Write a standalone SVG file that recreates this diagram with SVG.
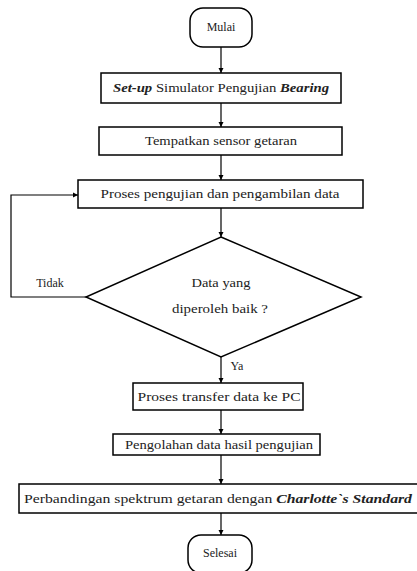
<svg xmlns="http://www.w3.org/2000/svg" width="417" height="571" viewBox="0 0 417 571">
<style>
.s{fill:#fff;stroke:#000;stroke-width:1.5}
.t{font-family:'Liberation Serif','DejaVu Serif','Times New Roman',serif;font-size:12px;fill:#222;text-anchor:middle}
.i{font-style:italic;font-weight:bold}
.c{fill:none;stroke:#000;stroke-width:1.2}
</style>
<defs>
<marker id="a" markerWidth="6" markerHeight="6" refX="5" refY="3" orient="auto" markerUnits="userSpaceOnUse">
<path d="M0,0.5 L5,3 L0,5.5 Z" fill="#000"/>
</marker>
</defs>
<g id="connectors">
<line class="c" x1="221" y1="47" x2="221" y2="73" marker-end="url(#a)"/>
<line class="c" x1="221" y1="103" x2="221" y2="127" marker-end="url(#a)"/>
<line class="c" x1="221" y1="155" x2="221" y2="180" marker-end="url(#a)"/>
<line class="c" x1="221" y1="208" x2="221" y2="237" marker-end="url(#a)"/>
<polyline class="c" points="86,297 11,297 11,195 78,195" marker-end="url(#a)"/>
<line class="c" x1="221" y1="357" x2="221" y2="383" marker-end="url(#a)"/>
<line class="c" x1="221" y1="410" x2="221" y2="434" marker-end="url(#a)"/>
<line class="c" x1="221" y1="455" x2="221" y2="484" marker-end="url(#a)"/>
<line class="c" x1="221" y1="513" x2="221" y2="535" marker-end="url(#a)"/>
<text class="t" x="50" y="287" font-family="Liberation Serif, serif">Tidak</text>
<text class="t" x="237" y="370" font-family="Liberation Serif, serif">Ya</text>
</g>
<g id="mulai">
<rect class="s" x="190" y="8" width="62" height="39" rx="13"/>
<text class="t" x="221" y="31" font-size="11">Mulai</text>
</g>
<g id="setup">
<rect class="s" x="101" y="73" width="240" height="30"/>
<text class="t" x="221" y="92" textLength="216" lengthAdjust="spacingAndGlyphs"><tspan class="i">Set-up</tspan> Simulator Pengujian <tspan class="i">Bearing</tspan></text>
</g>
<g id="tempatkan">
<rect class="s" x="99" y="127" width="243" height="28"/>
<text class="t" x="221" y="145" textLength="152" lengthAdjust="spacingAndGlyphs">Tempatkan sensor getaran</text>
</g>
<g id="proses">
<rect class="s" x="78" y="180" width="285" height="28"/>
<text class="t" x="220" y="198" textLength="239" lengthAdjust="spacingAndGlyphs">Proses  pengujian dan pengambilan data</text>
</g>
<g id="decision">
<polygon class="s" points="221,237 361,297 221,357 86,297"/>
<text class="t" x="221" y="287" textLength="59" lengthAdjust="spacingAndGlyphs">Data yang</text>
<text class="t" x="220" y="313" textLength="96" lengthAdjust="spacingAndGlyphs">diperoleh baik ?</text>
</g>
<g id="transfer">
<rect class="s" x="133" y="383" width="170" height="27"/>
<text class="t" x="219" y="401" textLength="163" lengthAdjust="spacingAndGlyphs">Proses transfer data ke PC</text>
</g>
<g id="pengolahan">
<rect class="s" x="113" y="434" width="207" height="21"/>
<text class="t" x="219" y="449" textLength="188" lengthAdjust="spacingAndGlyphs">Pengolahan data hasil pengujian</text>
</g>
<g id="perbandingan">
<rect class="s" x="19" y="484" width="402" height="29"/>
<text class="t" x="218" y="503" textLength="388" lengthAdjust="spacingAndGlyphs">Perbandingan spektrum getaran dengan <tspan class="i">Charlotte`s Standard</tspan></text>
</g>
<g id="selesai">
<rect class="s" x="188" y="535" width="64" height="38" rx="13"/>
<text class="t" x="220" y="557" font-size="11">Selesai</text>
</g>
</svg>
